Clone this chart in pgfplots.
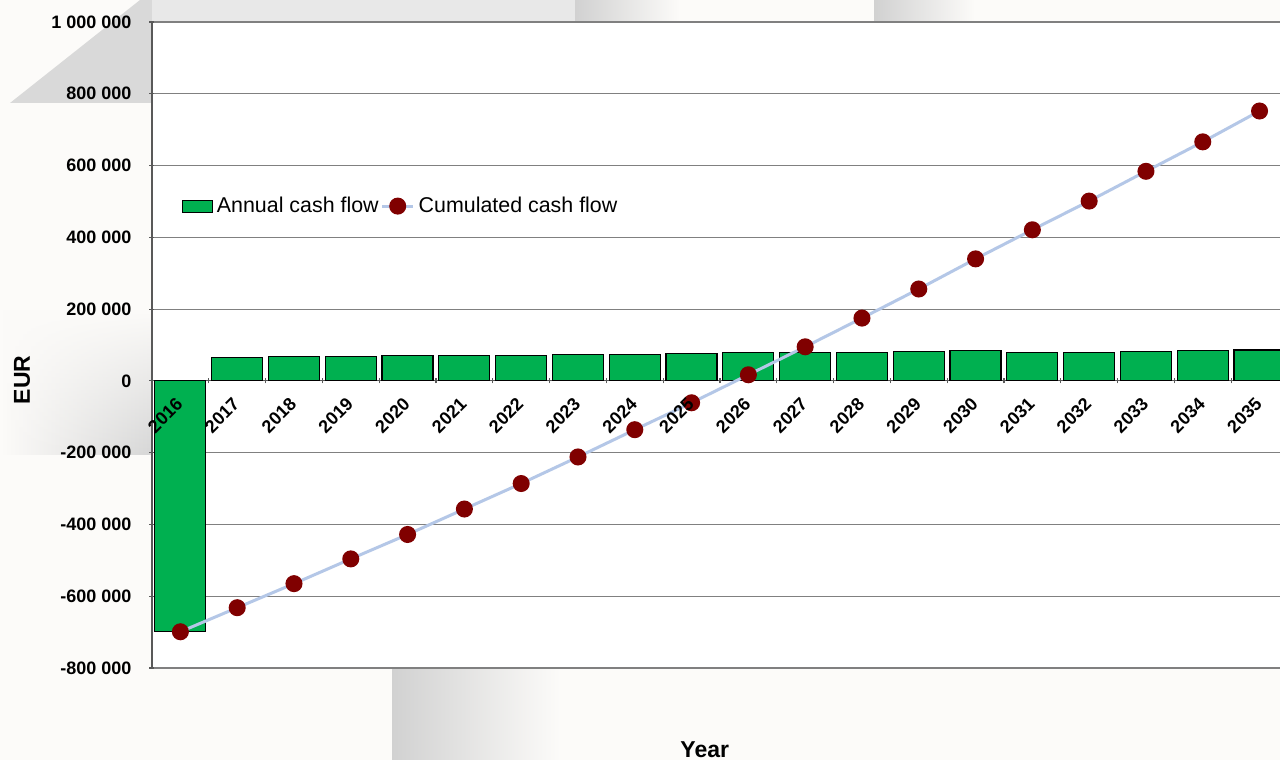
\documentclass[border=0pt]{standalone}
\usepackage{pgfplots}
\pgfplotsset{compat=1.18}
\usetikzlibrary{fadings}
\usepackage{fontspec}
\setmainfont{Liberation Sans}
\definecolor{bargreen}{RGB}{0,176,80}
\definecolor{dotred}{RGB}{128,0,0}
\definecolor{lineblue}{RGB}{180,199,231}
\definecolor{bg}{RGB}{252,251,249}
\pgfplotsset{
  common/.style={
    at={(76pt,46pt)}, anchor=south west,
    scale only axis, width=564pt, height=323pt,
    xmin=-0.5, xmax=19.36, ymin=-800000, ymax=1000000,
    xtick={0,1,2,3,4,5,6,7,8,9,10,11,12,13,14,15,16,17,18,19},
    tick align=outside,
    major tick length=2.5pt, minor tick length=2.5pt,
    major x tick style={draw=none},
    scaled y ticks=false,
  }
}
\begin{document}
\begin{tikzpicture}
\useasboundingbox (0,0) rectangle (640pt,380pt);
\fill[bg] (0,0) rectangle (640pt,380pt);
% background decorations
\fill[black!15] (5pt,328.5pt) -- (70pt,380pt) -- (76pt,380pt) -- (76pt,328.5pt) -- cycle;
\fill[black!9] (76pt,369pt) rectangle (287.5pt,380pt);
\shade[left color=black!18, right color=bg] (287.5pt,369pt) rectangle (340pt,380pt);
\shade[left color=black!18, right color=bg] (437pt,369pt) rectangle (487.5pt,380pt);
\shade[left color=bg, right color=black!16, path fading=north] (0pt,152.5pt) rectangle (76pt,225pt);
\shade[left color=black!18, right color=bg] (196pt,0pt) rectangle (280pt,46pt);
\begin{axis}[
  common,
  axis background/.style={fill=white},
  axis x line=middle, axis y line=left,
  axis line style={-, draw=black!65, line width=0.6pt},
  ymajorgrids, grid style={draw=black!50, line width=0.6pt},
  ytick={-800000,-600000,-400000,-200000,0,200000,400000,600000,800000,1000000},
  yticklabels={-800 000,-600 000,-400 000,-200 000,0,200 000,400 000,600 000,800 000,1 000 000},
  xticklabels={},
  minor xtick={-0.5,0.5,...,19.5},
  tick style={draw=black!65, line width=0.6pt},
  major x tick style={draw=none},
  y tick label style={font=\fontsize{9}{10}\selectfont\bfseries, xshift=-5.5pt},
  every axis x label/.style={at={(axis description cs:0.490,-0.127)}, anchor=center, font=\fontsize{11.5}{13}\selectfont\bfseries},
  every axis y label/.style={at={(axis description cs:-0.1152,0.446)}, anchor=center, rotate=90, font=\fontsize{11.5}{13}\selectfont\bfseries},
  xlabel={Year}, ylabel={EUR},
  legend style={at={(axis description cs:0.026,0.715)}, anchor=west, draw=none, fill=none,
    font=\fontsize{10.7}{12}\selectfont, inner sep=0pt,
    /tikz/every even column/.append style={column sep=-1pt}},
  legend columns=2,
  clip=true,
]
\addplot[ybar, bar width=25.5pt, fill=bargreen, draw=black, line width=0.6pt,
  legend image code/.code={\draw[fill=bargreen, draw=black, line width=0.6pt] (0pt,-3pt) rectangle (15pt,3pt);}]
  coordinates {
  (0,-699000) (1,66000) (2,69000) (3,69000) (4,70000) (5,70000) (6,71000) (7,74000) (8,74000) (9,76000)
  (10,78000) (11,78000) (12,80000) (13,82000) (14,84000) (15,80000) (16,80000) (17,82000) (18,84000) (19,86000)
  };
\addlegendentry{Annual cash flow}
\addplot[lineblue, line width=1.5pt, mark=*, mark size=3.5pt, mark options={draw=dotred, fill=dotred},
  legend image code/.code={\draw[lineblue, line width=1.5pt] (0pt,0pt) -- (15.5pt,0pt); \fill[dotred] (7.75pt,0pt) circle (3.5pt);}]
  coordinates {
  (0,-699000) (1,-632000) (2,-565000) (3,-496000) (4,-428000) (5,-357000) (6,-286000) (7,-212000) (8,-136000) (9,-61000)
  (10,17000) (11,95000) (12,175000) (13,256000) (14,340000) (15,421000) (16,501000) (17,584000) (18,666000) (19,752000)
  };
\addlegendentry{Cumulated cash flow}
\end{axis}
% overlay axis: year labels drawn above the bars and dots
\begin{axis}[
  common,
  axis x line=middle, axis y line=none,
  axis line style={draw=none},
  ytick=\empty,
  xticklabels={2016,2017,2018,2019,2020,2021,2022,2023,2024,2025,2026,2027,2028,2029,2030,2031,2032,2033,2034,2035},
  xticklabel shift=4pt,
  x tick label style={xshift=2pt, yshift=-2.5pt, font=\fontsize{9}{10}\selectfont\bfseries, rotate=45, anchor=east},
]
\addplot[draw=none, forget plot] coordinates {(0,0) (19,0)};
\end{axis}
\end{tikzpicture}
\end{document}
